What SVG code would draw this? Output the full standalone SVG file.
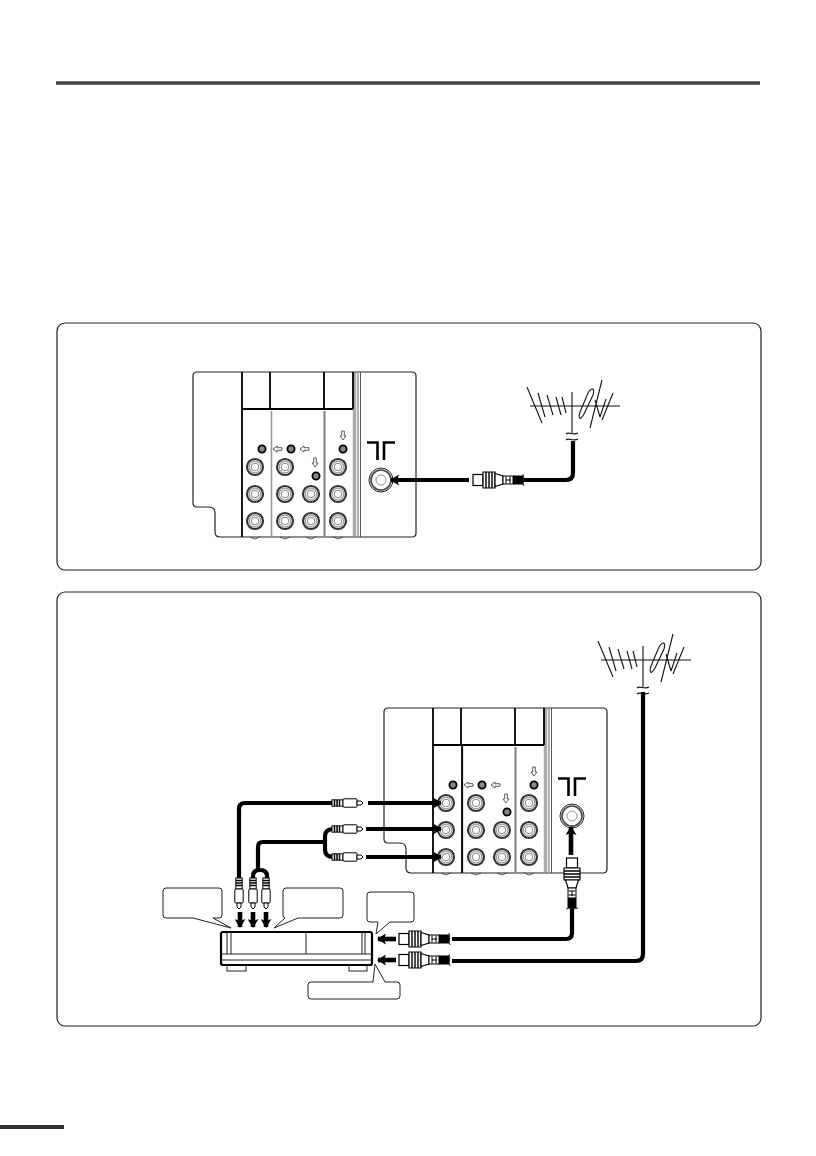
<svg xmlns="http://www.w3.org/2000/svg" width="816" height="1156" viewBox="0 0 816 1156">
<style>
.frame{fill:#fff;stroke:#222;stroke-width:1.2}
.call{fill:#fff;stroke:#222;stroke-width:1;stroke-linejoin:round}
.cable{fill:none;stroke:#000;stroke-width:4.2;stroke-linejoin:round}
.thin{fill:none;stroke:#222;stroke-width:1}
.plug{fill:#fff;stroke:#000;stroke-width:1.200}
.arrow{fill:none;stroke:#000;stroke-width:3.800}
.arrow-fat{fill:none;stroke:#000;stroke-width:4.600}
</style>
<defs>
<marker id="head" markerUnits="userSpaceOnUse" markerWidth="9" markerHeight="11" refX="8" refY="5.500" orient="auto"><path d="M0 0L9 5.500L0 11L2 5.500Z" fill="#000"/></marker>
<g id="jack"><circle r="8" fill="#fff" stroke="#333" stroke-width="2.200"/><circle r="5.800" fill="#fff" stroke="#999" stroke-width="1.200"/><circle r="3.800" fill="#fff" stroke="#666" stroke-width="0.800"/></g>
<g id="dot"><circle r="3.600" fill="#888" stroke="#000" stroke-width="1.800"/></g>
<path id="wl" d="M0 0L4 -3V-1.300H9V1.300H4V3Z" fill="#fff" stroke="#333" stroke-width="0.800"/>
<path id="wd" d="M-1.300 -8V-3H-3L0 1L3 -3H1.300V-8Z" fill="#fff" stroke="#333" stroke-width="0.800"/>
<g id="antenna" fill="none" stroke="#111" stroke-width="1.100">
<path d="M530 406H620M572 392V433"/>
<path d="M527 387L542 423M538 393L545 417M547 395L553 415M556 397L561 415M562 397L566 413"/>
<path d="M588 393C592 387 595 388 593 395L584 414C580 421 578 419 580 412Z"/>
<path d="M602 380L590 428M595 400L600 417M613 393L602 420M600 417L606 399"/>
<path d="M566 434C569 431 573 436 578 433M566 440C569 437 573 442 578 439" stroke-width="1.100"/>
</g>
<g id="hplug">
<rect x="0" y="-5.500" width="10" height="11" class="plug"/>
<path d="M10 -8H22V8H10Z" class="plug"/>
<path d="M13 -8V8M16 -8V8M19 -8V8" stroke="#000" stroke-width="1.400"/>
<path d="M22 -6.500L30 -4V4L22 6.500Z" class="plug"/>
<rect x="30" y="-4" width="10" height="8" fill="#fff" stroke="#000"/>
<path d="M33 -3.500V3.500M37 -3.500V3.500M33 0H38" stroke="#000" stroke-width="1"/>
<rect x="40" y="-4.500" width="10" height="9" fill="#000"/>
<path d="M50 -6C52 -3 49 3 51 6" class="thin"/>
</g>
<g id="rca">
<rect x="0" y="-3.200" width="11" height="6.400" fill="#fff" stroke="#000"/>
<path d="M2.500 -3V3M5 -3V3M7.500 -3V3" stroke="#000" stroke-width="1.500"/>
<rect x="11" y="-4.200" width="14" height="8.400" rx="1" fill="#fff" stroke="#000"/>
<path d="M25 -2H29L31 0L29 2H25Z" fill="#fff" stroke="#000"/>
</g>
<g id="back">
<path d="M197 372H412Q416 372 416 376V533Q416 537 412 537H220Q215 537 215 532V513Q215 507 209 507H197Q193 507 193 503V376Q193 372 197 372Z" fill="#fff" stroke="#222" stroke-width="1.200"/>
<path d="M354.500 373V536" stroke="#aaa" stroke-width="3.500"/>
<path d="M242 372V537M270 372V409M324 372V409M353 372V409M242 409H353" stroke="#000" stroke-width="1.800" fill="none"/>
<path d="M271.500 411V537" stroke="#999" stroke-width="1.600"/>
<path d="M324.500 411V537" stroke="#888" stroke-width="2.200"/>
<path d="M358 372V537" stroke="#999" stroke-width="1.500"/>
<path d="M360.500 372V537" stroke="#444" stroke-width="0.900"/>
<path d="M250 537l5 2l5 -2M280 537l5 2l5 -2M306 537l5 2l5 -2M333 537l5 2l5 -2" fill="none" stroke="#333" stroke-width="0.800"/>
<use href="#jack" x="255" y="467"/><use href="#jack" x="285" y="467"/><use href="#jack" x="338" y="467"/>
<use href="#jack" x="255" y="494"/><use href="#jack" x="285" y="494"/><use href="#jack" x="311" y="494"/><use href="#jack" x="338" y="494"/>
<use href="#jack" x="255" y="521"/><use href="#jack" x="285" y="521"/><use href="#jack" x="311" y="521"/><use href="#jack" x="338" y="521"/>
<use href="#dot" x="262" y="449"/><use href="#dot" x="291" y="449"/><use href="#dot" x="316" y="476"/><use href="#dot" x="343" y="449"/>
<use href="#wl" x="273" y="449"/><use href="#wl" x="300" y="449"/>
<use href="#wd" x="315" y="466"/><use href="#wd" x="343" y="439"/>
<path d="M367 442.500H377.500V460M395 442.500H384V460" fill="none" stroke="#000" stroke-width="2.600"/>
<circle cx="381" cy="480" r="12" fill="#fff" stroke="#222" stroke-width="1"/>
<circle cx="381" cy="480" r="10" fill="#fff" stroke="#444" stroke-width="1.600"/>
<circle cx="381" cy="480" r="5" fill="#fff" stroke="#777" stroke-width="0.800"/>
</g>
</defs>

<rect width="816" height="1156" fill="#fff"/>
<path id="header-rule" d="M56 83H760" stroke="#444" stroke-width="3.500" fill="none"/>
<path id="footer-rule" d="M0 1127H64" stroke="#333" stroke-width="4" fill="none"/>

<rect id="panel-top" class="frame" x="57" y="323" width="704" height="247" rx="8"/>
<rect id="panel-bottom" class="frame" x="57" y="592" width="704" height="434" rx="8"/>

<g id="tv-back-top"><use href="#back"/></g>
<g id="antenna-top"><use href="#antenna"/></g>

<g id="tv-back-bottom"><use href="#back" x="191" y="336"/>
<path d="M462 745V873" stroke="#000" stroke-width="1.800"/></g>
<g id="antenna-bottom"><use href="#antenna" x="71" y="254"/></g>

<g id="connectors">
<path class="arrow" d="M469 480H391" marker-end="url(#head)"/>
<path class="cable" d="M523 480H566Q573 480 573 473V441"/>
<path class="cable" d="M643 692V954Q643 961 636 961H452"/>
<path class="cable" d="M452 939H566Q572 939 572 933V905"/>
<path class="arrow-fat" d="M571 855V827" marker-end="url(#head)"/>
<path class="arrow-fat" d="M396 939H378" marker-end="url(#head)"/>
<path class="arrow-fat" d="M396 960H378" marker-end="url(#head)"/>
<path class="cable" d="M334 803H245Q239 803 239 809V880"/>
<path class="cable" d="M334 829Q325 829 325 836V850Q325 857 334 857"/>
<path class="cable" d="M324 842H263Q258 842 258 847V870"/>
<path class="cable" d="M253 881V876Q253 870 260 870Q267 870 267 876V881"/>
<path class="arrow" d="M368 803H441" marker-end="url(#head)"/>
<path class="arrow" d="M366 829H441" marker-end="url(#head)"/>
<path class="arrow" d="M366 857H441" marker-end="url(#head)"/>
<path class="arrow-fat" d="M240 912V927" marker-end="url(#head)"/>
<path class="arrow-fat" d="M253 912V927" marker-end="url(#head)"/>
<path class="arrow-fat" d="M266 912V927" marker-end="url(#head)"/>
</g>

<g id="plug-antenna-top"><use href="#hplug" x="473" y="480"/></g>
<g id="plug-vcr-out"><use href="#hplug" x="399" y="939"/></g>
<g id="plug-vcr-in"><use href="#hplug" x="399" y="960"/></g>
<g id="plug-tv-in"><use href="#hplug" transform="translate(572 858) rotate(90)"/></g>
<g id="rca-h"><use href="#rca" x="332" y="803"/><use href="#rca" x="332" y="829"/><use href="#rca" x="332" y="857"/></g>
<g id="rca-v"><use href="#rca" transform="translate(239 878) rotate(90)"/><use href="#rca" transform="translate(253 878) rotate(90)"/><use href="#rca" transform="translate(266 878) rotate(90)"/></g>

<g id="vcr">
<rect x="227" y="965" width="19" height="6" fill="#fff" stroke="#222"/>
<rect x="349" y="965" width="18" height="6" fill="#fff" stroke="#222"/>
<rect x="221" y="932" width="151" height="33" rx="2" fill="#fff" stroke="#000" stroke-width="2.200"/>
<path d="M221 954H372M221 960H372M227 932V954M231 932V954M306 932V954M362 932V954M365 932V954" fill="none" stroke="#222" stroke-width="1"/>
</g>

<g id="callout-left"><path class="call" d="M166 888H219Q222 888 222 891V915Q222 918 219 918H213L231 928L193 918H166Q163 918 163 915V891Q163 888 166 888Z"/></g>
<g id="callout-right"><path class="call" d="M286 888H340Q343 888 343 891V915Q343 918 340 918H298L274 928L285 918Q283 918 283 915V891Q283 888 286 888Z"/></g>
<g id="callout-out"><path class="call" d="M370 892H411Q414 892 414 895V919Q414 922 411 922H390L376 934L378 922H370Q367 922 367 919V895Q367 892 370 892Z"/></g>
<g id="callout-in"><path class="call" d="M311 982H373L375 964L385 982H397Q400 982 400 985V996Q400 999 397 999H311Q308 999 308 996V985Q308 982 311 982Z"/></g>
</svg>
